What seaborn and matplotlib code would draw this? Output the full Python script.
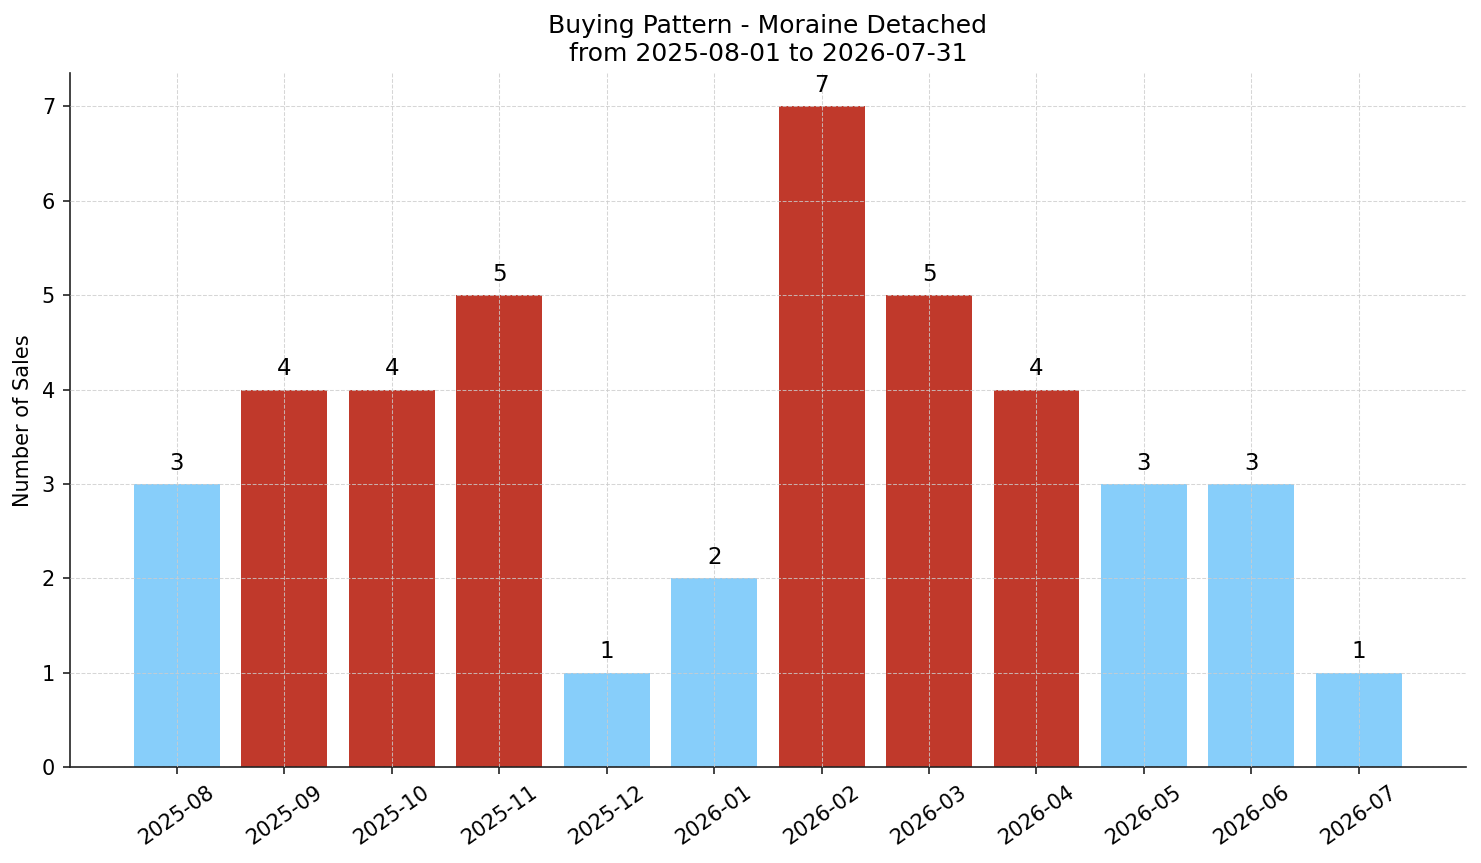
import matplotlib
matplotlib.use("Agg")
import matplotlib.pyplot as plt
import seaborn as sns
import pandas as pd

months = ["2025-08", "2025-09", "2025-10", "2025-11", "2025-12", "2026-01",
          "2026-02", "2026-03", "2026-04", "2026-05", "2026-06", "2026-07"]
sales = [3, 4, 4, 5, 1, 2, 7, 5, 4, 3, 3, 1]
threshold = 4
high_color = "#C0392B"
low_color = "#87CEFA"

df = pd.DataFrame({"month": months, "sales": sales})
palette = [high_color if v >= threshold else low_color for v in sales]

sns.set_style("white")
plt.rcParams['font.family'] = ['DejaVu Sans']
plt.rcParams['text.color'] = 'black'
plt.rcParams['axes.labelcolor'] = 'black'

fig, ax = plt.subplots(figsize=(1481 / 150, 863 / 150), dpi=150)
fig.subplots_adjust(left=0.047, right=0.99, top=0.915, bottom=0.111)

sns.barplot(data=df, x="month", y="sales", hue="month", palette=palette,
            legend=False, ax=ax, width=0.8, saturation=1, linewidth=0)

for i, v in enumerate(sales):
    ax.text(i, v + 0.1, str(v), ha="center", va="bottom", fontsize=11, color="black")

ax.set_xlim(-1, 12)
ax.set_ylim(0, 7.35)
ax.set_xlabel("")
ax.set_ylabel("Number of Sales", fontsize=10)
ax.set_title("Buying Pattern - Moraine Detached\nfrom 2025-08-01 to 2026-07-31", fontsize=12, color="black")
ax.tick_params(axis="x", bottom=True, labelrotation=35, labelsize=10, length=3.5, width=0.8,
               color="#222", labelcolor="black")
ax.tick_params(axis="y", left=True, labelsize=10, length=3.5, width=0.8,
               color="#222", labelcolor="black")
for lab in ax.get_xticklabels():
    lab.set_ha("center")
ax.set_axisbelow(False)
ax.grid(True, linestyle="--", color="#cccccc", alpha=0.8, linewidth=0.5)
sns.despine(ax=ax)
for s in ["left", "bottom"]:
    ax.spines[s].set_color("#222")
    ax.spines[s].set_linewidth(0.8)

fig.savefig("out.png", dpi=150)
